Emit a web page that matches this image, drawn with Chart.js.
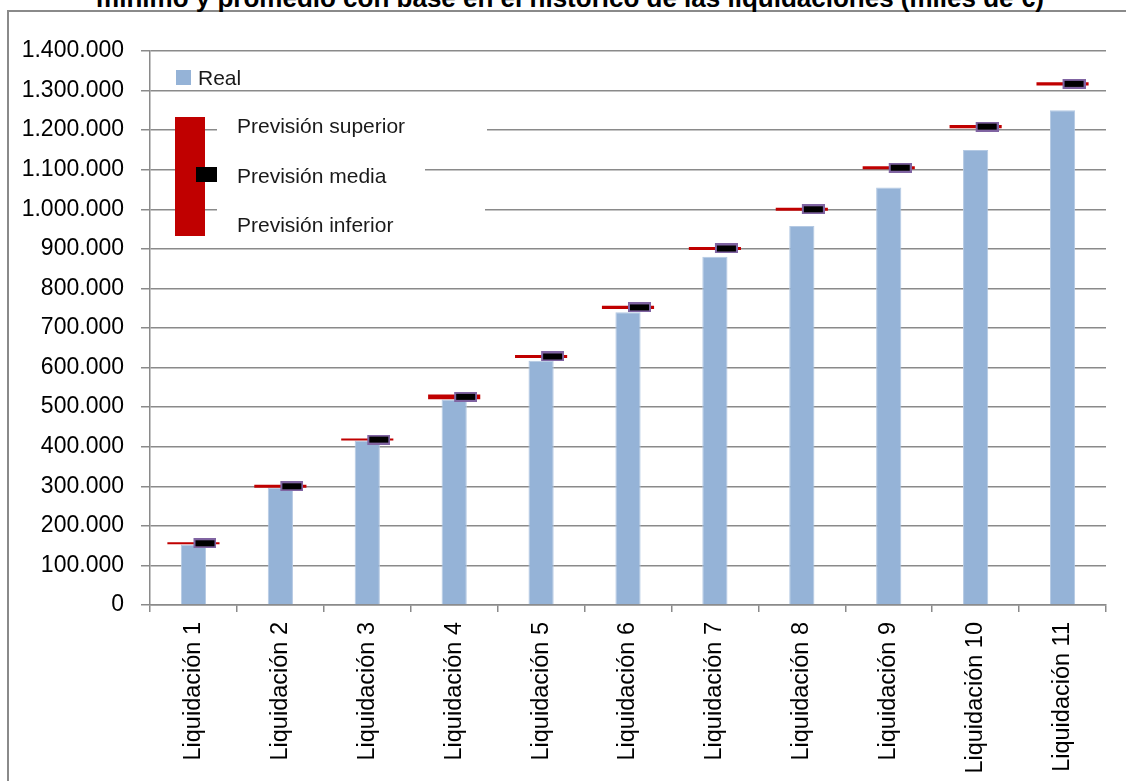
<!DOCTYPE html>
<html lang="es">
<head>
    <meta charset="UTF-8">
    <title>Liquidaciones: real y previsión</title>
    <script src="https://cdn.jsdelivr.net/npm/chart.js"></script>
    <style>
        body {
            margin: 0;
            background: #ffffff;
            font-family: "Liberation Sans", Arial, sans-serif;
            overflow: hidden;
        }

        .wrap {
            position: relative;
            width: 1126px;
            height: 781px;
            overflow: hidden;
        }

        .frame {
            position: absolute;
            left: 7px;
            top: 10px;
            width: 1200px;
            height: 900px;
            border: 2px solid #8a8a8a;
        }

        .title {
            position: absolute;
            left: 0;
            width: 1140px;
            top: -15px;
            text-align: center;
            font-weight: bold;
            font-size: 26px;
            line-height: 26px;
            color: #000;
            white-space: nowrap;
        }

        canvas {
            position: absolute;
            left: 0;
            top: 0;
        }

        .ov {
            position: absolute;
        }

        .label {
            position: absolute;
            font-size: 21px;
            line-height: 21px;
            color: #1a1a1a;
            white-space: nowrap;
        }
    </style>
</head>
<body>
<div class="wrap">
    <div class="frame"></div>
    <div class="title">mínimo y promedio con base en el histórico de las liquidaciones (miles de €)</div>
    <canvas id="chart1" width="1126" height="781"></canvas>

    <!-- leyenda, como en la hoja original -->
    <div class="ov" style="left:176px; top:70px; width:15px; height:15px; background:#95B3D7;"></div>
    <div class="label" style="left:198px; top:67px;">Real</div>

    <div class="ov" style="left:217px; top:112px; width:270px; height:36px; background:#fff;"></div>
    <div class="ov" style="left:217px; top:152px; width:208px; height:34px; background:#fff;"></div>
    <div class="ov" style="left:217px; top:192px; width:268px; height:46px; background:#fff;"></div>

    <div class="ov" style="left:175px; top:117px; width:30px; height:119px; background:#C00000;"></div>
    <div class="ov" style="left:196px; top:167px; width:21px; height:15px; background:#000;"></div>

    <div class="label" style="left:237px; top:115px;">Previsión superior</div>
    <div class="label" style="left:237px; top:165px;">Previsión media</div>
    <div class="label" style="left:237px; top:214px;">Previsión inferior</div>
</div>

<script>
    const categories = [
        'Liquidación 1', 'Liquidación 2', 'Liquidación 3', 'Liquidación 4',
        'Liquidación 5', 'Liquidación 6', 'Liquidación 7', 'Liquidación 8',
        'Liquidación 9', 'Liquidación 10', 'Liquidación 11'
    ];
    const real = [153000, 296000, 415000, 519000, 617000, 740000, 880000, 958000, 1055000, 1150000, 1250000];
    const prevSuperior = [158500, 304000, 420500, 532000, 632000, 756000, 905000, 1004000, 1109000, 1213000, 1321000];
    const prevMedia = [156000, 300000, 418000, 526000, 628000, 752000, 901000, 1000000, 1105000, 1209000, 1317000];
    const prevInferior = [153500, 296000, 415500, 520000, 624000, 748000, 897000, 996000, 1101000, 1205000, 1313000];

    // marcador negro con borde morado, desplazado a la derecha del centro
    function markerStyle() {
        const c = document.createElement('canvas');
        c.width = 46;
        c.height = 10;
        const g = c.getContext('2d');
        g.fillStyle = '#8064A2';
        g.fillRect(23, 0, 23, 10);
        g.fillStyle = '#000000';
        g.fillRect(25, 2, 19, 6);
        return c;
    }

    const ctx = document.getElementById('chart1').getContext('2d');
    const chart1 = new Chart(ctx, {
        type: 'bar',
        data: {
            labels: categories,
            datasets: [
                {
                    type: 'line',
                    label: 'Previsión media',
                    data: prevMedia,
                    showLine: false,
                    pointStyle: markerStyle(),
                    pointRadius: 6,
                    order: 0
                },
                {
                    label: 'Previsión',
                    data: categories.map((c, i) => [prevInferior[i], prevSuperior[i]]),
                    backgroundColor: '#C00000',
                    borderWidth: 0,
                    grouped: false,
                    barPercentage: 0.6,
                    categoryPercentage: 1,
                    order: 1
                },
                {
                    label: 'Real',
                    data: real,
                    backgroundColor: '#95B3D7',
                    borderColor: '#B4C9E3',
                    borderWidth: 1,
                    grouped: false,
                    barPercentage: 0.29,
                    categoryPercentage: 1,
                    order: 2
                }
            ]
        },
        options: {
            responsive: false,
            animation: false,
            layout: {
                padding: { top: 51, right: 20, bottom: 0, left: 0 }
            },
            plugins: {
                legend: { display: false },
                tooltip: { enabled: false },
                title: { display: false }
            },
            scales: {
                x: {
                    afterFit: (s) => { s.height = 176; },
                    grid: {
                        display: true,
                        drawOnChartArea: false,
                        tickLength: 7,
                        color: '#8a8a8a',
                        lineWidth: 1.5
                    },
                    border: { color: '#8a8a8a', width: 1.5 },
                    ticks: {
                        autoSkip: false,
                        minRotation: 90,
                        maxRotation: 90,
                        padding: 10,
                        color: '#000',
                        font: { family: 'Liberation Sans', size: 23.5 }
                    }
                },
                y: {
                    min: 0,
                    max: 1400000,
                    afterFit: (s) => { s.width = 150; },
                    grid: {
                        color: '#8a8a8a',
                        lineWidth: 1.5,
                        tickLength: 9
                    },
                    border: { color: '#8a8a8a', width: 1.5 },
                    ticks: {
                        stepSize: 100000,
                        padding: 17,
                        color: '#000',
                        font: { family: 'Liberation Sans', size: 23 },
                        callback: (v) => v.toLocaleString('de-DE')
                    }
                }
            }
        }
    });
</script>
</body>
</html>
